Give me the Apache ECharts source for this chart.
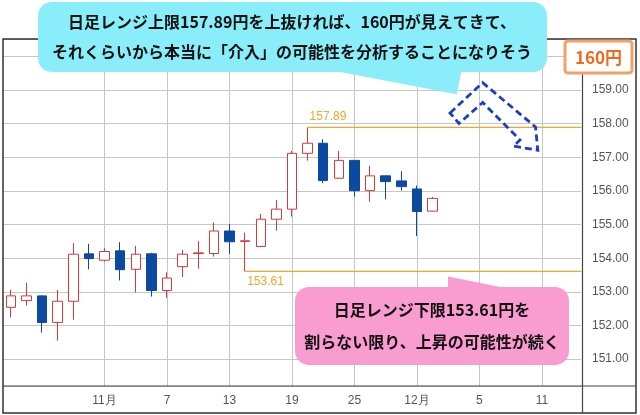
<!DOCTYPE html>
<html>
<head>
<meta charset="utf-8">
<script src="https://cdn.jsdelivr.net/npm/echarts@6/dist/echarts.min.js"></script>
<style>
    html, body { margin: 0; padding: 0; background: #fff; }
    #chart { width: 640px; height: 415px; }
</style>
</head>
<body>
<div id="chart"></div>
<script>
    // 日付ラベル（4本ごと）
    const dayLabels = ['', '', '', '', '', '', '11月', '', '', '', '7', '', '', '', '13', '', '', '', '19',
        '', '', '', '25', '', '', '', '12月', '', '', '', '5', '', '', '', '11', '', ''];
    // 日足 OHLC
    const opens  = [152.54, 152.74, 152.88, 152.09, 152.72, 154.13, 153.94, 154.22, 153.67, 154.13, 153.04, 153.75, 154.14, 154.14,
        154.81, 154.50, 154.35, 155.16, 155.46, 157.12, 157.42, 156.38, 156.91, 156.01, 156.45, 156.30, 156.06, 155.40];
    const closes = [152.88, 152.88, 152.09, 152.72, 154.12, 153.99, 154.20, 153.66, 154.12, 153.04, 153.41, 154.12, 154.16, 154.81,
        154.49, 154.52, 155.16, 155.46, 157.12, 157.42, 156.31, 156.91, 156.01, 156.45, 156.28, 156.13, 155.39, 155.78];
    const lows   = [152.24, 152.59, 151.79, 151.55, 152.17, 153.67, 153.90, 153.34, 152.98, 152.86, 152.82, 153.44, 153.69, 154.05,
        154.13, 153.61, 154.33, 154.82, 155.24, 156.90, 156.23, 156.36, 155.83, 155.68, 155.75, 156.01, 154.66, 155.39];
    const highs  = [153.06, 153.27, 152.90, 153.06, 154.45, 154.43, 154.30, 154.48, 154.37, 154.16, 153.58, 154.25, 154.51, 155.06,
        155.02, 154.76, 155.32, 155.73, 157.19, 157.89, 157.54, 157.19, 156.92, 156.75, 156.46, 156.59, 156.16, 155.82];
    // レンジ上限・下限 [開始インデックス, 値]
    const rangeHigh = [19, 157.89];
    const rangeLow = [15, 153.61];

    let candleData = opens.map(function (o, i) { return [o, closes[i], lows[i], highs[i]]; });

    const up = '#d8393c';
    const down = '#0c49a0';
    const orange = '#f2a531';
    const jp = '"Noto Sans CJK JP", sans-serif';

    let chart = echarts.init(document.getElementById('chart'));
    let option = {
        animation: false,
        grid: { left: 3, top: 39, right: 59, bottom: 29 },
        xAxis: [
            {
                type: 'category',
                data: dayLabels,
                boundaryGap: true,
                axisLine: { show: false },
                axisTick: { show: false },
                axisLabel: {
                    interval: 0, margin: 9, color: '#555', fontSize: 12,
                    fontFamily: 'Liberation Sans'
                },
                splitLine: {
                    show: true, alignWithLabel: true,
                    interval: function (i) { return dayLabels[i] !== ''; },
                    lineStyle: { color: '#c6c6c6', width: 1 }
                }
            },
            // レンジ線用（カテゴリの端まで伸ばすため）
            { type: 'value', min: -0.5, max: dayLabels.length - 0.5, show: false }
        ],
        yAxis: {
            type: 'value',
            position: 'right',
            min: 150.2,
            max: 160.52,
            splitNumber: 10,
            axisLine: { show: false },
            axisTick: { show: false },
            axisLabel: {
                margin: 11, color: '#555', fontSize: 12, fontFamily: 'Liberation Sans',
                showMinLabel: false, showMaxLabel: false,
                formatter: function (v) { return Math.abs(v - Math.round(v)) < 1e-6 ? v.toFixed(2) : ''; }
            },
            splitLine: { show: true, lineStyle: { color: '#c6c6c6', width: 1 } }
        },
        series: [
            {
                type: 'candlestick',
                data: candleData,
                barWidth: 10,
                itemStyle: {
                    color: '#fff', color0: down,
                    borderColor: up, borderColor0: down, borderWidth: 1
                }
            },
            {
                type: 'line',
                xAxisIndex: 1,
                symbol: 'circle', symbolSize: 1,
                itemStyle: { color: orange },
                lineStyle: { color: orange, width: 1.2 },
                data: [
                    { value: rangeHigh, label: { show: true, position: 'top', align: 'left', distance: 4, offset: [2, 0],
                        formatter: rangeHigh[1].toFixed(2), color: orange, fontSize: 12, fontFamily: 'Liberation Sans' } },
                    [dayLabels.length - 0.5, rangeHigh[1]]
                ]
            },
            {
                type: 'line',
                xAxisIndex: 1,
                symbol: 'circle', symbolSize: 1,
                itemStyle: { color: orange },
                lineStyle: { color: orange, width: 1.2 },
                data: [
                    { value: rangeLow, label: { show: true, position: 'bottom', align: 'left', distance: 4, offset: [2, 0],
                        formatter: rangeLow[1].toFixed(2), color: orange, fontSize: 12, fontFamily: 'Liberation Sans' } },
                    [dayLabels.length - 0.5, rangeLow[1]]
                ]
            }
        ],
        graphic: [
            // 枠
            { type: 'rect', z: 100, shape: { x: 3, y: 39, width: 633, height: 374 }, style: { fill: 'none', stroke: '#333', lineWidth: 1.5 } },
            { type: 'line', z: 100, shape: { x1: 3, y1: 386, x2: 636, y2: 386 }, style: { stroke: '#444', lineWidth: 1.2 } },
            { type: 'line', z: 100, shape: { x1: 582.5, y1: 39, x2: 582.5, y2: 413 }, style: { stroke: '#444', lineWidth: 1.2 } },
            // 上の吹き出し
            { type: 'polygon', z: 101, shape: { points: [[330, 70], [456.7, 94.3], [461.7, 70]] }, style: { fill: '#8aeefa' } },
            { type: 'rect', z: 101, shape: { x: 38, y: 2, width: 509, height: 70, r: 14 }, style: { fill: '#8aeefa' } },
            { type: 'text', z: 102, x: 292, y: 22, style: { text: '日足レンジ上限157.89円を上抜ければ、160円が見えてきて、',
                font: 'bold 16px ' + jp, fill: '#111', align: 'center', verticalAlign: 'middle' } },
            { type: 'text', z: 102, x: 292, y: 52, style: { text: 'それくらいから本当に「介入」の可能性を分析することになりそう',
                font: 'bold 16px ' + jp, fill: '#111', align: 'center', verticalAlign: 'middle' } },
            // 下の吹き出し
            { type: 'polygon', z: 101, shape: { points: [[448, 292], [448, 276.5], [525, 292]] }, style: { fill: '#f99dd0' } },
            { type: 'rect', z: 101, shape: { x: 295, y: 287, width: 274, height: 78, r: 14 }, style: { fill: '#f99dd0' } },
            { type: 'text', z: 102, x: 432, y: 310, style: { text: '日足レンジ下限153.61円を',
                font: 'bold 16px ' + jp, fill: '#111', align: 'center', verticalAlign: 'middle' } },
            { type: 'text', z: 102, x: 432, y: 342, style: { text: '割らない限り、上昇の可能性が続く',
                font: 'bold 16px ' + jp, fill: '#111', align: 'center', verticalAlign: 'middle' } },
            // 点線の矢印
            { type: 'polygon', z: 101, shape: { points: [[450, 113], [482.7, 82.7], [535.5, 127], [537.8, 150.3], [513.5, 146],
                [520, 140], [482.7, 102.5], [459, 123.5]] },
                style: { fill: 'none', stroke: '#1b3fc2', lineWidth: 2.8, lineDash: [7, 4] } },
            // 160円
            { type: 'rect', z: 101, shape: { x: 565, y: 41, width: 67, height: 32, r: 3 }, style: { fill: '#fff', stroke: '#f4a064', lineWidth: 3 } },
            { type: 'text', z: 102, x: 598.5, y: 57.5, style: { text: '160円', font: 'bold 17px ' + jp, fill: '#f06a1c',
                align: 'center', verticalAlign: 'middle' } }
        ]
    };
    chart.setOption(option);
</script>
</body>
</html>
